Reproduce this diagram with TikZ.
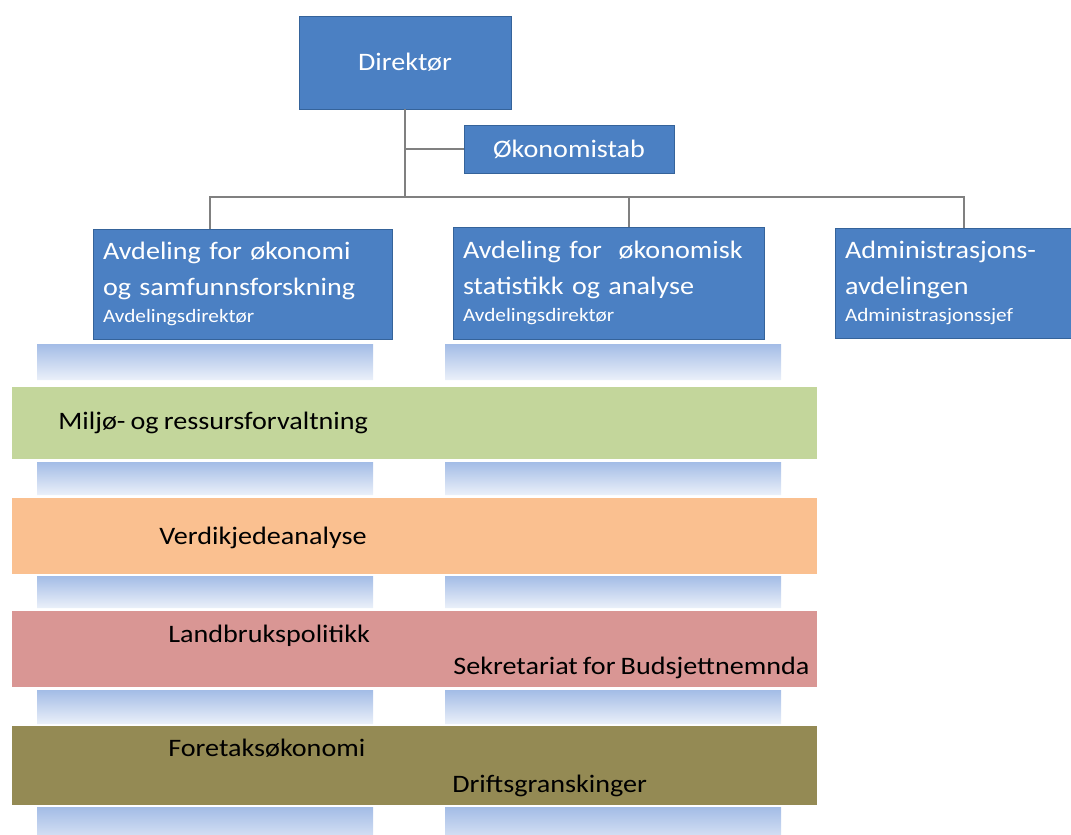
\documentclass[tikz,border=0pt]{standalone}
\usepackage{fontspec}
\setmainfont{Carlito}[FakeStretch=1.12, WordSpace=0.8]
\usetikzlibrary{positioning, calc}
\definecolor{orgblue}{HTML}{4B80C3}
\definecolor{orgedge}{HTML}{35639A}
\definecolor{linegray}{HTML}{808080}
\definecolor{miljogreen}{HTML}{C3D69B}
\definecolor{verdiorange}{HTML}{FAC090}
\definecolor{landred}{HTML}{D99694}
\definecolor{foretakolive}{HTML}{948A54}
\definecolor{barblue}{HTML}{A3BCE6}

\begin{document}
\begin{tikzpicture}[font=\fontsize{14.3}{20}\selectfont,
    orgbox/.style={rectangle, draw=orgedge, fill=orgblue, text=white, inner sep=0pt},
    avdbox/.style={orgbox, minimum height=2.2cm, inner xsep=0.2cm,
      text width=#1, align=left},
    band/.style={rectangle, minimum width=16.1cm, inner sep=0pt},
    bandtxt/.style={anchor=base west, inner sep=0pt},
    fadebar/.style={top color=barblue, bottom color=barblue!22!white},
    conn/.style={draw=linegray, line width=0.6pt},
  ]
    \clip (0,0) rectangle (21.42,-16.68);

    % top level
    \node[orgbox, minimum width=4.24cm, minimum height=1.86cm] (dir) at (8.1,-1.25) {Direktør};
    \node[orgbox, minimum width=4.2cm, minimum height=0.96cm] (stab) at (11.38,-2.98) {Økonomistab};

    % departments
    \node[avdbox=5.58cm] (avd1) at (4.85,-5.68)
      {Avdeling for økonomi\\og samfunnsforskning\\[-4.5pt]{\fontsize{10.8}{14}\selectfont Avdelingsdirektør}};
    \node[avdbox=5.82cm, minimum height=2.24cm] (avd2) at (12.17,-5.66)
      {Avdeling for~ økonomisk\\statistikk og analyse\\[-4.5pt]{\fontsize{10.8}{14}\selectfont Avdelingsdirektør}};
    \node[avdbox=4.5cm] (adm) at (19.15,-5.66)
      {Administrasjons-\\avdelingen\\[-4.5pt]{\fontsize{10.8}{14}\selectfont Administrasjonssjef}};

    \coordinate (bus) at (dir.south |- 0,-3.94);
    \draw[conn] (dir.south) -- (bus);
    \draw[conn] (dir.south |- stab.west) -- (stab.west);
    \draw[conn] ([xshift=-0.65cm]avd1.north) |- (bus) -| ([xshift=0.13cm]adm.north);
    \draw[conn] ([xshift=0.41cm]avd2.north) -- ([xshift=0.41cm]avd2.north |- bus);

    % fading bars
    \shade[fadebar] (0.74,-6.88) rectangle (7.46,-7.60) (8.90,-6.88) rectangle (15.62,-7.60);
    \shade[fadebar] (0.74,-9.24) rectangle (7.46,-9.90) (8.90,-9.24) rectangle (15.62,-9.90);
    \shade[fadebar] (0.74,-11.52) rectangle (7.46,-12.16) (8.90,-11.52) rectangle (15.62,-12.16);
    \shade[fadebar] (0.74,-13.80) rectangle (7.46,-14.48) (8.90,-13.80) rectangle (15.62,-14.48);
    \shade[fadebar] (0.74,-16.14) rectangle (7.46,-17.00) (8.90,-16.14) rectangle (15.62,-17.00);

    % research areas
    \node[band, fill=miljogreen, minimum height=1.44cm] (miljo) at (8.29,-8.46) {};
    \node[band, fill=verdiorange, minimum height=1.52cm] (verdi) at (8.29,-10.72) {};
    \node[band, fill=landred, minimum height=1.52cm] (land) at (8.29,-12.98) {};
    \node[band, fill=foretakolive, minimum height=1.58cm] (foretak) at (8.29,-15.31) {};

    \node[bandtxt] (miljotxt) at (1.16,-8.58) {Miljø- og ressursforvaltning};
    \node[bandtxt] (verditxt) at (3.18,-10.88) {Verdikjedeanalyse};
    \node[bandtxt] (landtxt) at (3.36,-12.84) {Landbrukspolitikk};
    \node[bandtxt] (sekrtxt) at (9.06,-13.48) {Sekretariat for Budsjettnemnda};
    \node[bandtxt] (foretaktxt) at (3.36,-15.12) {Foretaksøkonomi};
    \node[bandtxt] (drifttxt) at (9.04,-15.84) {Driftsgranskinger};
  \end{tikzpicture}
\end{document}
